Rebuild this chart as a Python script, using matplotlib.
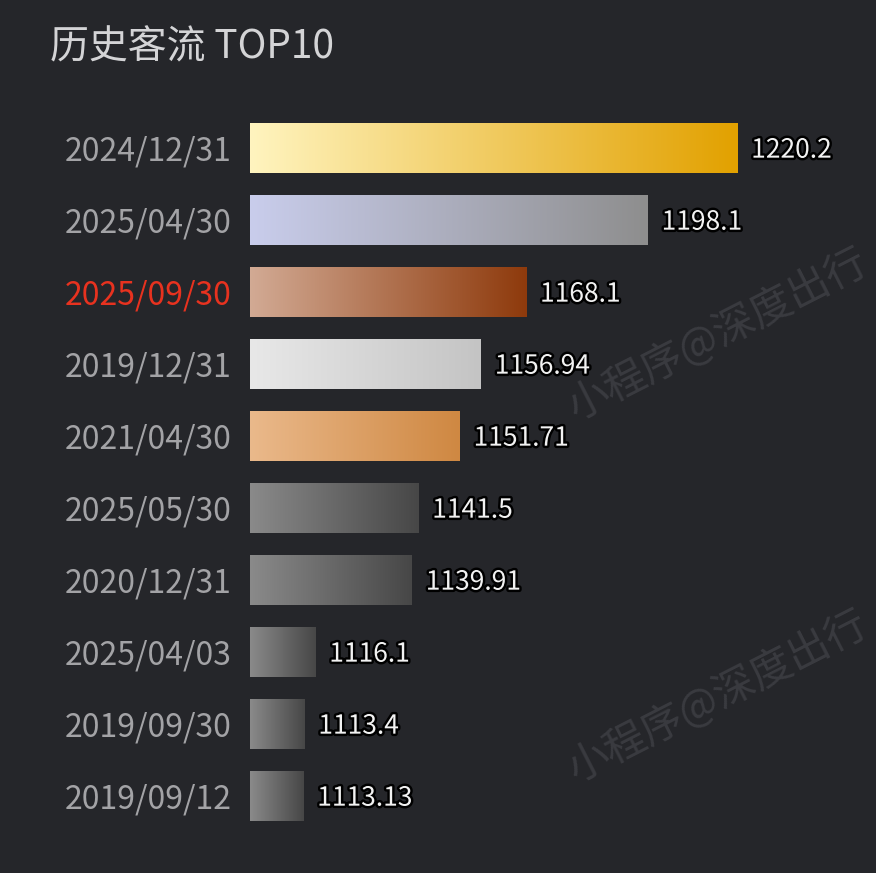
import matplotlib
matplotlib.use("Agg")
import matplotlib.pyplot as plt
import matplotlib.patheffects as pe
from matplotlib.colors import LinearSegmentedColormap
import numpy as np

dates = ["2024/12/31", "2025/04/30", "2025/09/30", "2019/12/31", "2021/04/30",
         "2025/05/30", "2020/12/31", "2025/04/03", "2019/09/30", "2019/09/12"]
values = [1220.2, 1198.1, 1168.1, 1156.94, 1151.71, 1141.5, 1139.91, 1116.1, 1113.4, 1113.13]
labels = ["1220.2", "1198.1", "1168.1", "1156.94", "1151.71", "1141.5", "1139.91", "1116.1", "1113.4", "1113.13"]
highlight = "2025/09/30"

grad_colors = [
    ("#fff4bf", "#e2a100"),
    ("#c9cdec", "#8e8e8e"),
    ("#d2aa94", "#8e3a0c"),
    ("#e8e8e8", "#c4c4c4"),
    ("#eab98b", "#cf8842"),
    ("#8a8a8a", "#474747"),
    ("#8a8a8a", "#474747"),
    ("#8a8a8a", "#474747"),
    ("#8a8a8a", "#474747"),
    ("#8a8a8a", "#474747"),
]

BG = "#25262a"
W, H = 876, 873
fig = plt.figure(figsize=(W / 100, H / 100), dpi=100, facecolor=BG)
plt.rcParams['font.family'] = ['Noto Sans CJK SC', 'DejaVu Sans']

ax_l, ax_r, ax_t, ax_b = 250, 876, 112, 832
ax = fig.add_axes([ax_l / W, 1 - ax_b / H, (ax_r - ax_l) / W, (ax_b - ax_t) / H])
ax.set_facecolor(BG)
xmin = 1100
scale = 4.053
for s in ax.spines.values():
    s.set_visible(False)
ax.set_xticks([])

bh = 0.69
grad = np.linspace(0, 1, 256).reshape(1, -1)
for i, (v, (c0, c1)) in enumerate(zip(values, grad_colors)):
    cmap = LinearSegmentedColormap.from_list(f"g{i}", [c0, c1])
    ax.imshow(grad, cmap=cmap, aspect="auto",
              extent=(xmin, v, i + bh / 2, i - bh / 2), zorder=2)
    ax.text(v + 14 / scale, i + 0.03, labels[i], ha="left", va="center",
            fontsize=19, color="#f2f2f2", family=['Noto Sans CJK SC', 'DejaVu Sans'],
            path_effects=[pe.withStroke(linewidth=3.5, foreground="#000000")], zorder=4)
ax.set_xlim(xmin, xmin + (ax_r - ax_l) / scale)
ax.set_ylim(len(values) - 0.5, -0.5)

ax.set_yticks(range(len(dates)))
ax.set_yticklabels(dates, fontsize=23)
ax.tick_params(axis="y", length=0, pad=13)
for t in ax.get_yticklabels():
    t.set_color("#e8321f" if t.get_text() == highlight else "#a3a3a6")

fig.text(50 / W, 1 - 47 / H, "历史客流 TOP10", fontsize=28, color="#d4d4d6",
         ha="left", va="center")

for (cx, cy) in [(718, 335), (718, 697)]:
    fig.text(cx / W, 1 - cy / H, "小程序@深度出行", fontsize=30, color="#3a3b40",
             rotation=27, ha="center", va="center", rotation_mode="anchor", zorder=0)

fig.savefig("out.png", dpi=100, facecolor=BG)
